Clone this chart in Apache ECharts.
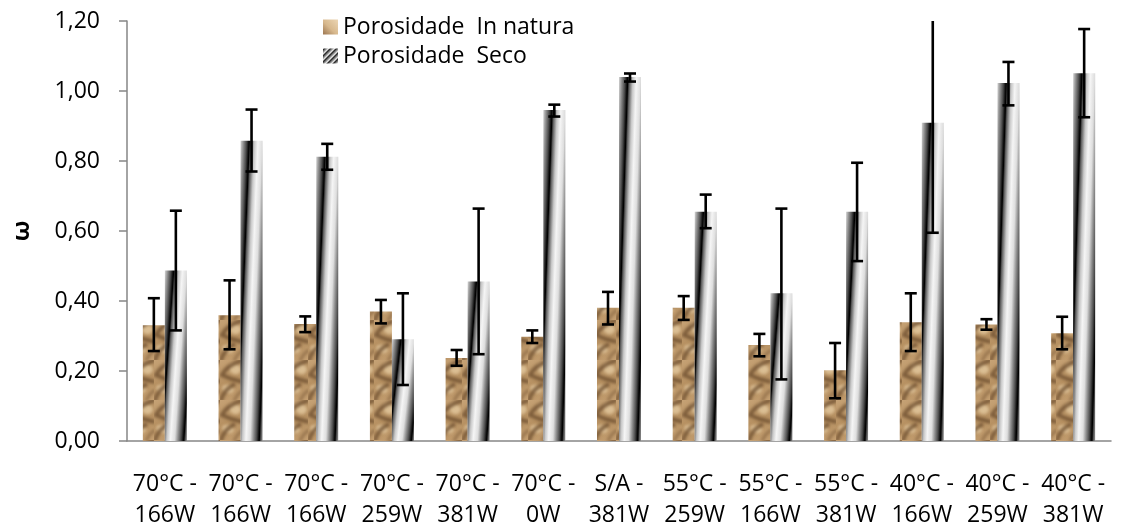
<!DOCTYPE html>
<html>
<head>
<meta charset="utf-8">
<script src="https://cdn.jsdelivr.net/npm/echarts@6/dist/echarts.min.js"></script>
<style>
html,body{margin:0;padding:0;background:#fff;}
#chart{width:1123px;height:531px;}
</style>
</head>
<body>
<div id="chart"></div>
<script>
// ---- data ----
const categories = ['70°C -\n166W','70°C -\n166W','70°C -\n166W','70°C -\n259W','70°C -\n381W','70°C -\n0W','S/A -\n381W','55°C -\n259W','55°C -\n166W','55°C -\n381W','40°C -\n166W','40°C -\n259W','40°C -\n381W'];
const seriesNames = ['Porosidade  In natura', 'Porosidade  Seco'];
const natura     = [0.331, 0.359, 0.334, 0.370, 0.237, 0.298, 0.381, 0.381, 0.274, 0.202, 0.339, 0.333, 0.308];
const naturaLow  = [0.257, 0.262, 0.311, 0.336, 0.215, 0.280, 0.333, 0.346, 0.242, 0.122, 0.257, 0.318, 0.262];
const naturaHigh = [0.408, 0.459, 0.356, 0.403, 0.260, 0.316, 0.426, 0.414, 0.306, 0.280, 0.422, 0.348, 0.355];
const seco       = [0.487, 0.858, 0.812, 0.291, 0.456, 0.946, 1.040, 0.655, 0.422, 0.655, 0.909, 1.023, 1.051];
const secoLow    = [0.316, 0.770, 0.775, 0.160, 0.248, 0.927, 1.027, 0.608, 0.176, 0.514, 0.595, 0.959, 0.925];
const secoHigh   = [0.658, 0.947, 0.849, 0.422, 0.664, 0.961, 1.050, 0.704, 0.664, 0.795, 1.220, 1.083, 1.177];
const yTicks = {min: 0, max: 1.2, interval: 0.2};

// ---- textures ----
const FONT = '"Open Sans", "Noto Sans", sans-serif';
function makeSand() {
  const W = 22, H = 40;
  const c = document.createElement('canvas');
  c.width = W; c.height = H;
  const g = c.getContext('2d');
  const bg = g.createLinearGradient(0, 0, W, H);
  bg.addColorStop(0, '#c6a275'); bg.addColorStop(0.5, '#b69061'); bg.addColorStop(1, '#c39e70');
  g.fillStyle = bg; g.fillRect(0, 0, W, H);
  g.filter = 'blur(1.6px)';
  g.fillStyle = 'rgba(224,198,155,0.85)';
  g.beginPath(); g.ellipse(15, 9, 6, 5, 0.4, 0, Math.PI * 2); g.fill();
  g.beginPath(); g.ellipse(8, 29, 6, 4, 0.3, 0, Math.PI * 2); g.fill();
  g.strokeStyle = 'rgba(108,77,46,0.78)'; g.lineWidth = 4;
  g.beginPath(); g.moveTo(23, 0); g.quadraticCurveTo(7, 5, 2, 15); g.quadraticCurveTo(12, 20, 23, 22); g.stroke();
  g.beginPath(); g.moveTo(15, 24); g.quadraticCurveTo(3, 30, 1, 41); g.stroke();
  g.strokeStyle = 'rgba(125,92,58,0.6)'; g.lineWidth = 3;
  g.beginPath(); g.moveTo(23, 30); g.quadraticCurveTo(17, 34, 14, 41); g.stroke();
  return c;
}
function makeStripeIcon() {
  const c = document.createElement('canvas');
  c.width = 6; c.height = 6;
  const g = c.getContext('2d');
  const img = g.createImageData(6, 6);
  for (let y = 0; y < 6; y++) for (let x = 0; x < 6; x++) {
    const t = ((x + y) % 6) / 5;
    const v = Math.round(20 + t * 230);
    const k = (y * 6 + x) * 4;
    img.data[k] = v; img.data[k + 1] = v; img.data[k + 2] = v; img.data[k + 3] = 255;
  }
  g.putImageData(img, 0, 0);
  return c;
}
const sandPattern = {image: makeSand(), repeat: 'repeat'};
const stripePattern = {image: makeStripeIcon(), repeat: 'repeat'};
const naturaIcon = {type: 'linear', x: 0, y: 1, x2: 1, y2: 0, colorStops: [
  {offset: 0, color: '#9c7650'}, {offset: 0.45, color: '#d7b88d'}, {offset: 1, color: '#ecd6b4'}]};

const BAR_W = 22;
const basicStops = [
  [0.00, '#8e8e8e'], [0.14, '#4a4a4a'], [0.23, '#101010'], [0.27, '#000000'],
  [0.34, '#5c5c5c'], [0.50, '#c8c8c8'], [0.66, '#f5f5f5'], [0.85, '#dedede'], [1.00, '#8e8e8e']
];
// global-coordinate sawtooth gradient for one bar (left edge xL, top yT, base yB)
function secoGradient(xL, yT, yB) {
  const w = BAR_W, H = Math.max(yB - yT, 8);
  const c = 0.55, a = 0.13 * w;
  const gy = 3 * c * w * w / H;
  const stops = [];
  for (let k = 0; k < 3; k++) basicStops.forEach(s => stops.push({offset: Math.min(1, (k + s[0]) / 3), color: s[1]}));
  return {type: 'linear', global: true, x: xL + a - w, y: yT, x2: xL + a + 2 * w, y2: yT + gy, colorStops: stops};
}

// ---- error bars ----
function errSeries(name, low, high, off) {
  return {
    type: 'custom', name: name + ' err', clip: true, z: 5, silent: true,
    encode: {x: 0, y: [1, 2]},
    data: low.map((l, i) => [i, l, high[i]]),
    renderItem: function (params, api) {
      const p1 = api.coord([api.value(0), api.value(1)]);
      const p2 = api.coord([api.value(0), api.value(2)]);
      const x = p1[0] + off, cap = 6;
      const st = {stroke: '#000', lineWidth: 2.6};
      return {type: 'group', children: [
        {type: 'line', shape: {x1: x, y1: p1[1], x2: x, y2: p2[1]}, style: st},
        {type: 'line', shape: {x1: x - cap, y1: p1[1], x2: x + cap, y2: p1[1]}, style: st},
        {type: 'line', shape: {x1: x - cap, y1: p2[1], x2: x + cap, y2: p2[1]}, style: st}
      ]};
    }
  };
}

const chart = echarts.init(document.getElementById('chart'), null, {renderer: 'canvas'});
chart.setOption({
  animation: false,
  backgroundColor: '#fff',
  textStyle: {fontFamily: FONT},
  grid: {left: 127, right: 12, top: 21, bottom: 89, containLabel: false},
  legend: {
    orient: 'vertical', left: 323, top: 15, padding: 0, itemGap: 5,
    itemWidth: 15, itemHeight: 15, itemStyle: {borderWidth: 0},
    textStyle: {fontFamily: FONT, fontSize: 23, color: '#000', lineHeight: 24},
    data: [
      {name: seriesNames[0], icon: 'rect', itemStyle: {color: naturaIcon}},
      {name: seriesNames[1], icon: 'rect', itemStyle: {color: stripePattern}}
    ]
  },
  xAxis: {
    type: 'category', data: categories,
    axisLine: {lineStyle: {color: '#868686', width: 1.5}},
    axisTick: {show: false},
    axisLabel: {interval: 0, margin: 28, fontFamily: FONT, fontSize: 23, color: '#000', lineHeight: 31}
  },
  yAxis: {
    type: 'value', min: yTicks.min, max: yTicks.max, interval: yTicks.interval,
    name: 'ω', nameLocation: 'middle', nameRotate: 90, nameGap: 93,
    nameTextStyle: {fontFamily: FONT, fontSize: 24, fontWeight: 'bold', color: '#000'},
    splitLine: {show: false},
    axisLine: {show: true, lineStyle: {color: '#868686', width: 1.5}},
    axisTick: {show: true, inside: false, length: 8, lineStyle: {color: '#868686', width: 1.5}},
    axisLabel: {margin: 27, fontFamily: FONT, fontSize: 23, color: '#000',
      formatter: v => v.toFixed(2).replace('.', ',')}
  },
  series: [
    {type: 'bar', name: seriesNames[0], data: natura, barWidth: BAR_W, barGap: '0%',
      itemStyle: {color: sandPattern}},
    {type: 'bar', name: seriesNames[1], data: seco, barWidth: BAR_W, barGap: '0%',
      itemStyle: {color: '#bbbbbb'}},
    errSeries(seriesNames[0], naturaLow, naturaHigh, -BAR_W / 2),
    errSeries(seriesNames[1], secoLow, secoHigh, BAR_W / 2)
  ]
});

// shade each Seco bar with a gradient placed at its pixel position (from the library's own scale)
const secoStyled = seco.map((v, i) => {
  const top = chart.convertToPixel({gridIndex: 0}, [i, v]);
  const base = chart.convertToPixel({gridIndex: 0}, [i, 0]);
  return {value: v, itemStyle: {color: secoGradient(top[0], top[1], base[1])}};
});
chart.setOption({series: [{}, {data: secoStyled}]});
</script>
</body>
</html>
